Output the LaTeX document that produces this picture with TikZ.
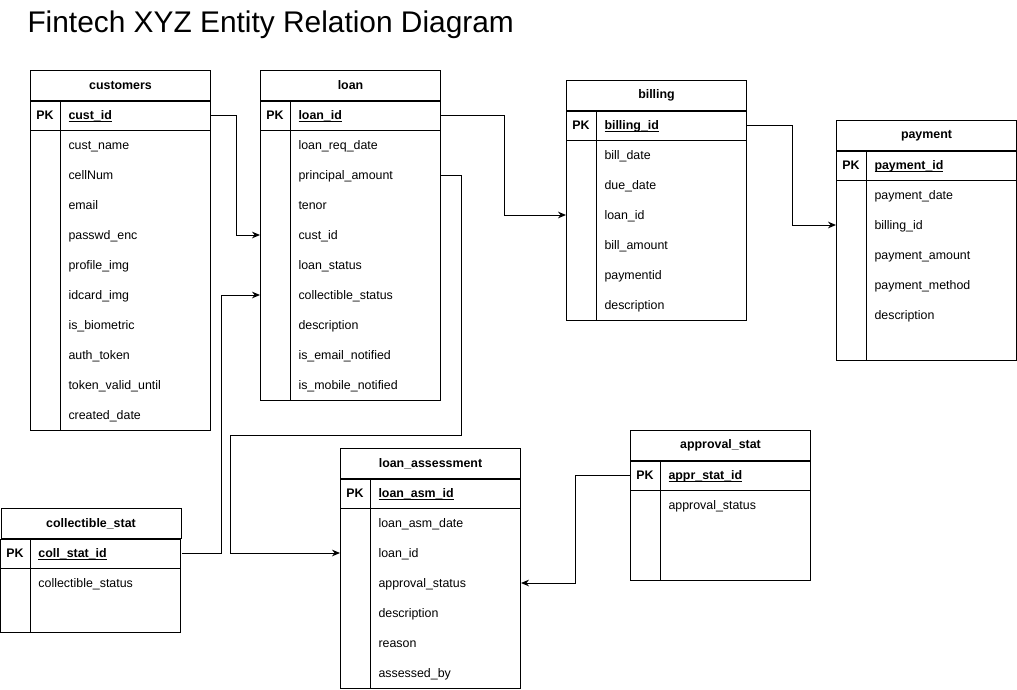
\documentclass[tikz,border=0pt]{standalone}
\usepackage{fontspec}
\setmainfont{Liberation Sans}
\usetikzlibrary{arrows.meta}

\newcommand{\pkname}[1]{\underline{\smash{#1}}}

\tikzset{
	tbl/.style={draw, line width=0.75pt, anchor=north west, minimum width=135pt, minimum height=22.5pt, inner sep=0pt, font=\fontsize{9.3}{11}\selectfont\bfseries},
	fld/.style={anchor=west, inner sep=0pt, text height=6.75pt, text depth=0pt, font=\fontsize{9.3}{11}\selectfont},
	pkfld/.style={fld, font=\fontsize{9.3}{11}\selectfont\bfseries},
	pkey/.style={inner sep=0pt, text height=6.75pt, text depth=0pt, font=\fontsize{9.3}{11}\selectfont\bfseries},
	fk/.style={line width=0.75pt, -{Stealth[length=6pt,width=5pt]}},
}

\begin{document}
\begin{tikzpicture}[x=0.75pt,y=-0.75pt,line width=0.75pt]
		\useasboundingbox (0,0) rectangle (1017,689);

		\node[anchor=west, inner sep=0pt, font=\fontsize{22.4}{26}\selectfont] (title) at (27,25) {Fintech XYZ Entity Relation Diagram};

		% customers
		\node[tbl] (customers) at (30,70) {customers};
		\draw (customers.south west) rectangle (210,430);
		\draw (30,130) -- (210,130);
		\draw (60,100) -- (60,430);
		\node[pkey] (customers-k) at (45,115) {PK};
		\node[pkfld] (customers-pk) at (68,115) {\pkname{cust\_id}};
		\foreach \f [count=\i] in {cust\_name, cellNum, email, passwd\_enc, profile\_img, idcard\_img, is\_biometric, auth\_token, token\_valid\_until, created\_date}
			\node[fld] (customers-\i) at (68,115+30*\i) {\f};

		% loan
		\node[tbl] (loan) at (260,70) {loan};
		\draw (loan.south west) rectangle (440,400);
		\draw (260,130) -- (440,130);
		\draw (290,100) -- (290,400);
		\node[pkey] (loan-k) at (275,115) {PK};
		\node[pkfld] (loan-pk) at (298,115) {\pkname{loan\_id}};
		\foreach \f [count=\i] in {loan\_req\_date, principal\_amount, tenor, cust\_id, loan\_status, collectible\_status, description, is\_email\_notified, is\_mobile\_notified}
			\node[fld] (loan-\i) at (298,115+30*\i) {\f};

		% billing
		\node[tbl] (billing) at (566,80) {billing};
		\draw (billing.south west) rectangle (746,320);
		\draw (566,140) -- (746,140);
		\draw (596,110) -- (596,320);
		\node[pkey] (billing-k) at (581,125) {PK};
		\node[pkfld] (billing-pk) at (604,125) {\pkname{billing\_id}};
		\foreach \f [count=\i] in {bill\_date, due\_date, loan\_id, bill\_amount, paymentid, description}
			\node[fld] (billing-\i) at (604,125+30*\i) {\f};

		% payment
		\node[tbl] (payment) at (836,120) {payment};
		\draw (payment.south west) rectangle (1016,360);
		\draw (836,180) -- (1016,180);
		\draw (866,150) -- (866,360);
		\node[pkey] (payment-k) at (851,165) {PK};
		\node[pkfld] (payment-pk) at (874,165) {\pkname{payment\_id}};
		\foreach \f [count=\i] in {payment\_date, billing\_id, payment\_amount, payment\_method, description}
			\node[fld] (payment-\i) at (874,165+30*\i) {\f};

		% loan_assessment
		\node[tbl] (assess) at (340,448) {loan\_assessment};
		\draw (assess.south west) rectangle (520,688);
		\draw (340,508) -- (520,508);
		\draw (370,478) -- (370,688);
		\node[pkey] (assess-k) at (355,493) {PK};
		\node[pkfld] (assess-pk) at (378,493) {\pkname{loan\_asm\_id}};
		\foreach \f [count=\i] in {loan\_asm\_date, loan\_id, approval\_status, description, reason, assessed\_by}
			\node[fld] (assess-\i) at (378,493+30*\i) {\f};

		% approval_stat
		\node[tbl] (approval) at (630,430) {approval\_stat};
		\draw (approval.south west) rectangle (810,580);
		\draw (630,490) -- (810,490);
		\draw (660,460) -- (660,580);
		\node[pkey] (approval-k) at (645,475) {PK};
		\node[pkfld] (approval-pk) at (668,475) {\pkname{appr\_stat\_id}};
		\node[fld] (approval-1) at (668,505) {approval\_status};

		% collectible_stat
		\node[tbl] (collect) at (0.5,508) {collectible\_stat};
		\draw (collect.south west) rectangle (180.5,632);
		\draw (0.5,568) -- (180.5,568);
		\draw (30,538) -- (30,632);
		\node[pkey] (collect-k) at (15,553) {PK};
		\node[pkfld] (collect-pk) at (38,553) {\pkname{coll\_stat\_id}};
		\node[fld] (collect-1) at (38,583) {collectible\_status};

		% relations
		\draw[fk] (customers.east |- customers-pk) -- ++(25,0) |- (loan.west |- loan-4);
		\draw[fk] (loan.east |- loan-pk) -- ++(63,0) |- (billing.west |- billing-3);
		\draw[fk] (loan.east |- loan-2) -- ++(20,0) |- (230,435) |- (assess.west |- assess-2);
		\draw[fk] (collect.east |- collect-pk) -- ++(40,0) |- (loan.west |- loan-6);
		\draw[fk] (billing.east |- billing-pk) -- ++(45,0) |- (payment.west |- payment-2);
		\draw[fk] (approval.west |- approval-pk) -- ++(-55,0) |- (assess.east |- assess-3);

	\end{tikzpicture}
\end{document}
